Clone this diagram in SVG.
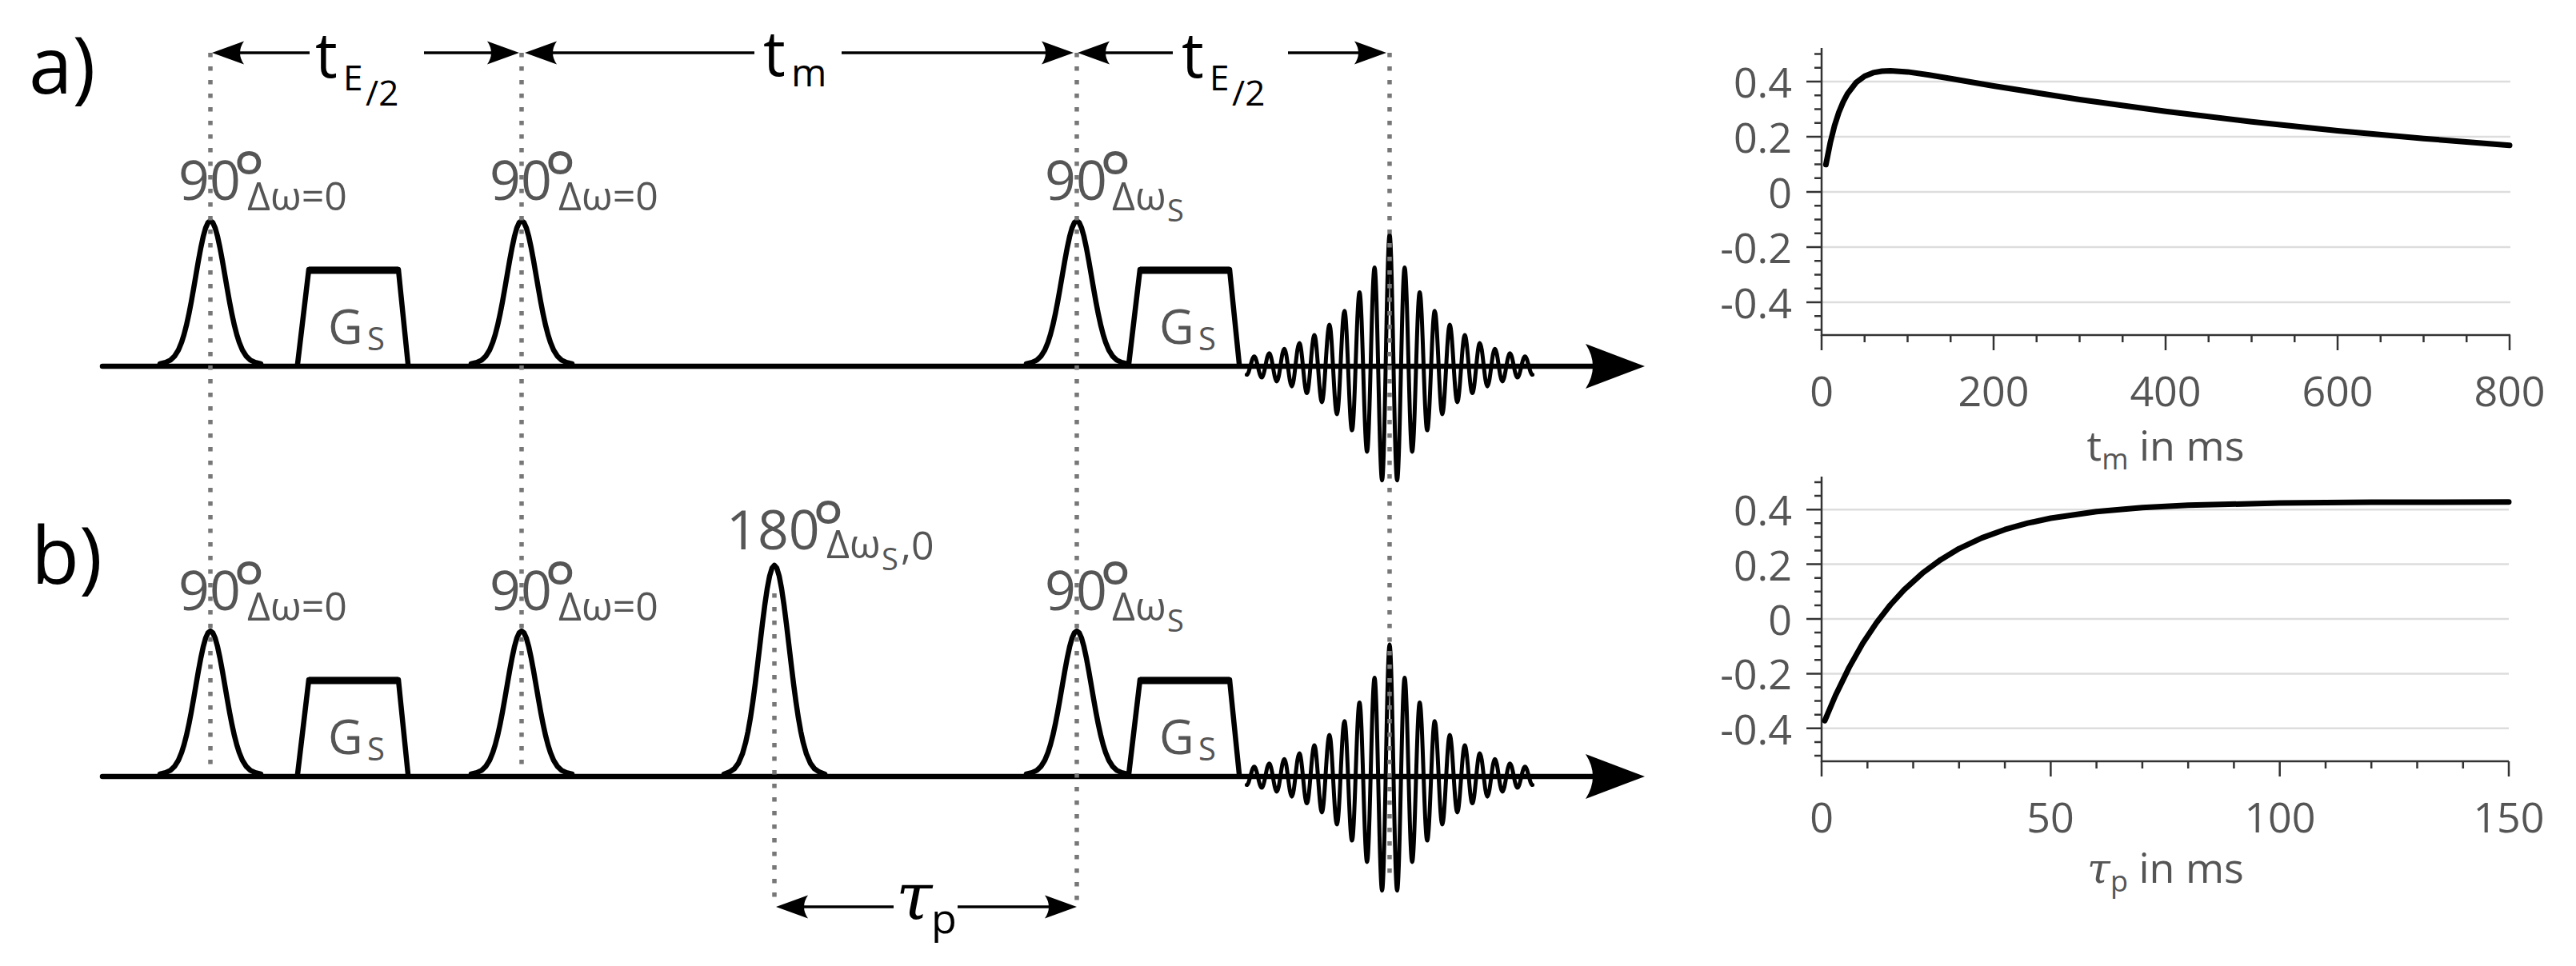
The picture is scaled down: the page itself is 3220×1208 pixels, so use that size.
<svg xmlns="http://www.w3.org/2000/svg" width="3220" height="1208" viewBox="0 0 3220 1208">
<defs>
<style>
text{font-family:"Open Sans","DejaVu Sans",sans-serif}
.k{fill:#000}
.g{fill:#555}
.ln{fill:none;stroke:#000;stroke-width:6.5;stroke-linejoin:round;stroke-linecap:round}
.cv{fill:none;stroke:#000;stroke-width:7;stroke-linejoin:round;stroke-linecap:round}
.top{fill:none;stroke:#000;stroke-width:9}
.echo{fill:none;stroke:#000;stroke-width:5;stroke-linejoin:round;stroke-linecap:round}
.dim{fill:none;stroke:#000;stroke-width:3.5}
.dot{fill:none;stroke:#777;stroke-width:5.5;stroke-dasharray:5.5 11.5}
.ax{fill:none;stroke:#333;stroke-width:2.5}
.grid{fill:none;stroke:#ddd;stroke-width:2.5}
.tick{font-size:52px;fill:#555}
.tau{font-family:"DejaVu Serif","Liberation Serif",serif;font-style:italic}
</style>
<marker id="ah" markerUnits="userSpaceOnUse" viewBox="-30 -16 44 32" refX="0" refY="0" markerWidth="44" markerHeight="32" orient="auto">
<path d="M12,0 L-28,-14.5 Q-18,0 -28,14.5 Z" fill="#000"/>
</marker>
<path id="p90" d="M-63,0 L-56,-1.83 L-50,-4.64 L-45,-9.29 L-40,-17.29 L-36,-26.95 L-33,-36.47 L-30,-48.07 L-27,-61.71 L-24,-77.16 L-21,-93.98 L-18,-111.5 L-15,-128.86 L-12,-145.03 L-9,-159.02 L-6,-169.83 L-3,-176.66 L0,-179 L3,-176.66 L6,-169.83 L9,-159.02 L12,-145.03 L15,-128.86 L18,-111.5 L21,-93.98 L24,-77.16 L27,-61.71 L30,-48.07 L33,-36.47 L36,-26.95 L40,-17.29 L45,-9.29 L50,-4.64 L56,-1.83 L63,0"/>
<path id="p180" d="M-63,0 L-56,-2.67 L-50,-6.77 L-45,-13.55 L-40,-25.21 L-36,-39.3 L-33,-53.18 L-30,-70.09 L-27,-89.97 L-24,-112.51 L-21,-137.04 L-18,-162.58 L-15,-187.89 L-12,-211.48 L-9,-231.87 L-6,-247.63 L-3,-257.59 L0,-261 L3,-257.59 L6,-247.63 L9,-231.87 L12,-211.48 L15,-187.89 L18,-162.58 L21,-137.04 L24,-112.51 L27,-89.97 L30,-70.09 L33,-53.18 L36,-39.3 L40,-25.21 L45,-13.55 L50,-6.77 L56,-2.67 L63,0"/>
<path id="gbox" d="M0,0 L14,-118 L126,-118 L138,0"/>
<path id="gtop" d="M14,-117 L126,-117"/>
<path id="echo" d="M1558.4,468.6 c3.416,0 5.984,-22.8 9.4,-22.8 s5.984,26.3 9.4,26.3 s5.984,-30.4 9.4,-30.4 s5.984,35.2 9.4,35.2 s5.984,-40.7 9.4,-40.7 s5.984,47 9.4,47 s5.984,-54.3 9.4,-54.3 s5.984,62.7 9.4,62.7 s5.984,-72.5 9.4,-72.5 s5.984,83.8 9.4,83.8 s5.984,-96.8 9.4,-96.8 s5.984,111.9 9.4,111.9 s5.984,-129.3 9.4,-129.3 s5.984,149.4 9.4,149.4 s5.984,-172.6 9.4,-172.6 s5.984,199.4 9.4,199.4 s5.984,-230.5 9.4,-230.5 s5.984,266.4 9.4,266.4 s5.984,-307.8 9.4,-307.8 s5.984,307.8 9.4,307.8 s5.984,-266.4 9.4,-266.4 s5.984,230.5 9.4,230.5 s5.984,-199.4 9.4,-199.4 s5.984,172.6 9.4,172.6 s5.984,-149.4 9.4,-149.4 s5.984,129.3 9.4,129.3 s5.984,-111.9 9.4,-111.9 s5.984,96.8 9.4,96.8 s5.984,-83.8 9.4,-83.8 s5.984,72.5 9.4,72.5 s5.984,-62.7 9.4,-62.7 s5.984,54.3 9.4,54.3 s5.984,-47 9.4,-47 s5.984,40.7 9.4,40.7 s5.984,-35.2 9.4,-35.2 s5.984,30.4 9.4,30.4 s5.984,-26.3 9.4,-26.3 s5.984,22.8 9.4,22.8"/>
<path id="axarrow" d="M2056,0 L1982,-28 Q2000,0 1982,28 Z"/>
</defs>

<rect width="3220" height="1208" fill="#fff"/>

<!-- panel labels -->
<g id="label-a"><text class="k" x="36" y="117" font-size="98">a)</text></g>
<g id="label-b"><text class="k" x="39" y="730" font-size="98">b)</text></g>

<!-- sequence a -->
<g id="seq-a-axis">
<path class="ln" d="M128,458 H2010"/>
<use href="#axarrow" y="458" fill="#000"/>
</g>
<g id="a-pulse1"><use href="#p90" class="ln" x="263" y="455"/>
<text class="g" x="223" y="250" font-size="68">90<tspan x="291" y="258" font-size="95">°</tspan><tspan x="309" y="263" font-size="50">Δω=0</tspan></text></g>
<g id="a-grad1"><use href="#gbox" class="ln" x="372" y="455"/><use href="#gtop" class="top" x="372" y="455"/>
<text class="g" x="410" y="430" font-size="60">G<tspan x="459" y="438" font-size="40">S</tspan></text></g>
<g id="a-pulse2"><use href="#p90" class="ln" x="652" y="455"/>
<text class="g" x="612" y="250" font-size="68">90<tspan x="680" y="258" font-size="95">°</tspan><tspan x="698" y="263" font-size="50">Δω=0</tspan></text></g>
<g id="a-pulse3"><use href="#p90" class="ln" x="1346" y="455"/>
<text class="g" x="1306" y="250" font-size="68">90<tspan x="1374" y="258" font-size="95">°</tspan><tspan x="1390" y="263" font-size="50">Δω</tspan><tspan x="1459" y="277" font-size="38">S</tspan></text></g>
<g id="a-grad2"><use href="#gbox" class="ln" x="1411" y="455"/><use href="#gtop" class="top" x="1411" y="455"/>
<text class="g" x="1449" y="430" font-size="60">G<tspan x="1498" y="438" font-size="40">S</tspan></text></g>
<g id="a-echo"><use href="#echo" class="echo"/></g>

<!-- sequence b -->
<g id="seq-b-axis">
<path class="ln" d="M128,971 H2010"/>
<use href="#axarrow" y="971" fill="#000"/>
</g>
<g id="b-pulse1"><use href="#p90" class="ln" x="263" y="968"/>
<text class="g" x="223" y="763" font-size="68">90<tspan x="291" y="771" font-size="95">°</tspan><tspan x="309" y="776" font-size="50">Δω=0</tspan></text></g>
<g id="b-grad1"><use href="#gbox" class="ln" x="372" y="968"/><use href="#gtop" class="top" x="372" y="968"/>
<text class="g" x="410" y="943" font-size="60">G<tspan x="459" y="951" font-size="40">S</tspan></text></g>
<g id="b-pulse2"><use href="#p90" class="ln" x="652" y="968"/>
<text class="g" x="612" y="763" font-size="68">90<tspan x="680" y="771" font-size="95">°</tspan><tspan x="698" y="776" font-size="50">Δω=0</tspan></text></g>
<g id="b-pulse180"><use href="#p180" class="ln" x="968" y="968"/>
<text class="g" x="908" y="687" font-size="68">180<tspan x="1015" y="695" font-size="95">°</tspan><tspan x="1033" y="698" font-size="50">Δω</tspan><tspan x="1102" y="713" font-size="38">S</tspan><tspan x="1126" y="700" font-size="50">,0</tspan></text></g>
<g id="b-pulse3"><use href="#p90" class="ln" x="1346" y="968"/>
<text class="g" x="1306" y="763" font-size="68">90<tspan x="1374" y="771" font-size="95">°</tspan><tspan x="1390" y="776" font-size="50">Δω</tspan><tspan x="1459" y="790" font-size="38">S</tspan></text></g>
<g id="b-grad2"><use href="#gbox" class="ln" x="1411" y="968"/><use href="#gtop" class="top" x="1411" y="968"/>
<text class="g" x="1449" y="943" font-size="60">G<tspan x="1498" y="951" font-size="40">S</tspan></text></g>
<g id="b-echo"><use href="#echo" class="echo" y="513"/></g>

<!-- connectors: timing arrows and guide lines -->
<g id="connectors">
<path class="dim" d="M387,66 H277" marker-end="url(#ah)"/>
<path class="dim" d="M530,66 H637" marker-end="url(#ah)"/>
<path class="dim" d="M943,66 H668" marker-end="url(#ah)"/>
<path class="dim" d="M1052,66 H1330" marker-end="url(#ah)"/>
<path class="dim" d="M1466,66 H1359" marker-end="url(#ah)"/>
<path class="dim" d="M1610,66 H1721" marker-end="url(#ah)"/>
<path class="dim" d="M1117,1134 H982" marker-end="url(#ah)"/>
<path class="dim" d="M1197,1134 H1334" marker-end="url(#ah)"/>
<path class="dot" d="M263,66 V966 M652,66 V966 M1346,66 V1132 M1737,66 V1100 M968,742 V1130"/>
</g>
<g id="timing-labels">
<text class="k" x="394" y="97" font-size="78">t<tspan x="429" y="113" font-size="44">E</tspan><tspan x="457" y="132" font-size="44">/2</tspan></text>
<text class="k" x="954" y="95" font-size="78">t<tspan x="989" y="108" font-size="48">m</tspan></text>
<text class="k" x="1477" y="97" font-size="78">t<tspan x="1512" y="113" font-size="44">E</tspan><tspan x="1540" y="132" font-size="44">/2</tspan></text>
<text class="k" x="1120" y="1150" font-size="82"><tspan class="tau">τ</tspan><tspan x="1164" y="1167" font-size="52">p</tspan></text>
</g>

<!-- plot a -->
<g id="plot-a">
<path class="grid" d="M2277,102 H3138 M2277,171 H3138 M2277,240 H3138 M2277,309 H3138 M2277,378 H3138"/>
<path class="ax" d="M2277,60 V419 H3138"/>
<path class="ax" d="M2258,102 H2277 M2258,171 H2277 M2258,240 H2277 M2258,309 H2277 M2258,378 H2277 M2268,67.5 H2277 M2268,84.75 H2277 M2268,119.25 H2277 M2268,136.5 H2277 M2268,153.75 H2277 M2268,188.25 H2277 M2268,205.5 H2277 M2268,222.75 H2277 M2268,257.25 H2277 M2268,274.5 H2277 M2268,291.75 H2277 M2268,326.25 H2277 M2268,343.5 H2277 M2268,360.75 H2277 M2268,395.25 H2277 M2268,412.5 H2277"/>
<path class="ax" d="M2277,419 V438 M2492,419 V438 M2707,419 V438 M2922,419 V438 M3137,419 V438 M2330.75,419 V428 M2384.5,419 V428 M2438.25,419 V428 M2545.75,419 V428 M2599.5,419 V428 M2653.25,419 V428 M2760.75,419 V428 M2814.5,419 V428 M2868.25,419 V428 M2975.75,419 V428 M3029.5,419 V428 M3083.25,419 V428"/>
<g class="tick" text-anchor="end">
<text x="2240" y="122">0.4</text><text x="2240" y="191">0.2</text><text x="2240" y="260">0</text><text x="2240" y="329">-0.2</text><text x="2240" y="398">-0.4</text>
</g>
<g class="tick" text-anchor="middle">
<text x="2277" y="508">0</text><text x="2492" y="508">200</text><text x="2707" y="508">400</text><text x="2922" y="508">600</text><text x="3137" y="508">800</text>
</g>
<text class="g" x="2707" y="576" font-size="52" text-anchor="middle">t<tspan font-size="36" dy="11">m</tspan><tspan dy="-11"> in ms</tspan></text>
<polyline class="cv" points="2282.4,205.8 2287.8,178.7 2293.1,157.4 2298.5,140.7 2303.9,127.6 2309.3,117.3 2320,103.3 2330.8,95.3 2341.5,90.9 2352.3,89 2363,88.4 2384.5,89.9 2411.4,93.8 2438.3,98.3 2492,107.5 2599.5,124.5 2707,139.3 2814.5,152.2 2922,163.4 3029.5,173.2 3137,181.8"/>
</g>

<!-- plot b -->
<g id="plot-b">
<path class="grid" d="M2277,637.2 H3136 M2277,705.6 H3136 M2277,774 H3136 M2277,842.4 H3136 M2277,910.8 H3136"/>
<path class="ax" d="M2277,596 V952 H3136"/>
<path class="ax" d="M2258,637.2 H2277 M2258,705.6 H2277 M2258,774 H2277 M2258,842.4 H2277 M2258,910.8 H2277 M2268,603 H2277 M2268,620.1 H2277 M2268,654.3 H2277 M2268,671.4 H2277 M2268,688.5 H2277 M2268,722.7 H2277 M2268,739.8 H2277 M2268,756.9 H2277 M2268,791.1 H2277 M2268,808.2 H2277 M2268,825.3 H2277 M2268,859.5 H2277 M2268,876.6 H2277 M2268,893.7 H2277 M2268,927.9 H2277 M2268,945 H2277"/>
<path class="ax" d="M2277,952 V971 M2563.4,952 V971 M2849.7,952 V971 M3136,952 V971 M2334.3,952 V961 M2391.5,952 V961 M2448.8,952 V961 M2506.1,952 V961 M2620.6,952 V961 M2677.9,952 V961 M2735.2,952 V961 M2792.4,952 V961 M2907,952 V961 M2964.2,952 V961 M3021.5,952 V961 M3078.8,952 V961"/>
<g class="tick" text-anchor="end">
<text x="2240" y="657">0.4</text><text x="2240" y="726">0.2</text><text x="2240" y="794">0</text><text x="2240" y="862">-0.2</text><text x="2240" y="931">-0.4</text>
</g>
<g class="tick" text-anchor="middle">
<text x="2277" y="1041">0</text><text x="2563" y="1041">50</text><text x="2850" y="1041">100</text><text x="3136" y="1041">150</text>
</g>
<text class="g" x="2707" y="1104" font-size="52" text-anchor="middle"><tspan class="tau">τ</tspan><tspan font-size="36" dy="11">p</tspan><tspan dy="-11"> in ms</tspan></text>
<polyline class="cv" points="2281,901.2 2294.2,870 2311.4,834.6 2328.5,804.4 2345.7,778.6 2362.9,756.5 2380.1,737.7 2403,716.8 2425.9,699.9 2448.8,686.1 2477.4,672.6 2506.1,662.2 2534.7,654.2 2563.4,648 2620.6,639.7 2677.9,634.7 2735.2,631.8 2849.7,629.1 2964.2,628.1 3136,627.7"/>
</g>
</svg>
